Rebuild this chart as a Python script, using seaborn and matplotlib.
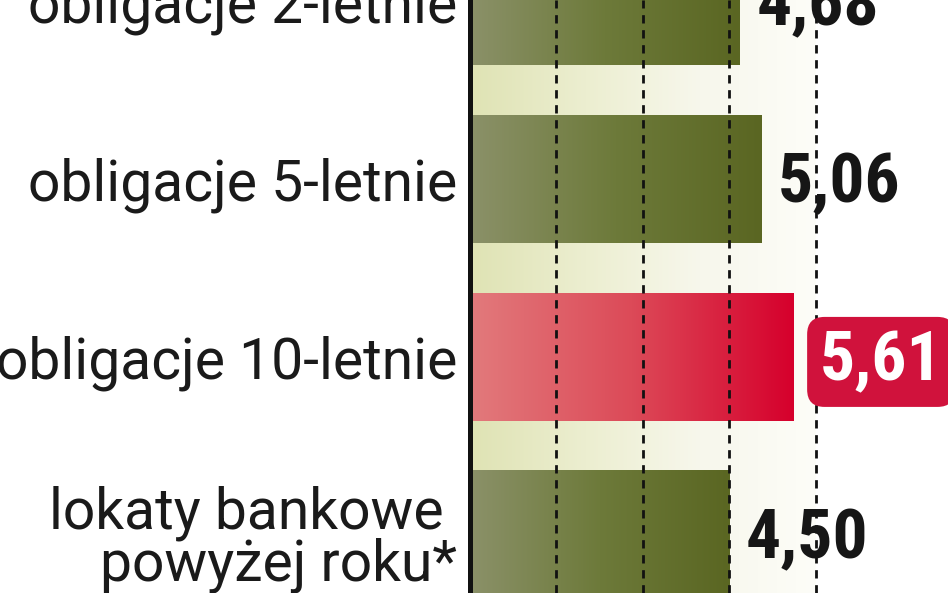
import matplotlib
matplotlib.use("Agg")
import matplotlib.pyplot as plt
from matplotlib.colors import LinearSegmentedColormap
import seaborn as sns
import numpy as np
import pandas as pd

categories = ["obligacje 2-letnie", "obligacje 5-letnie", "obligacje 10-letnie",
              "lokaty bankowe \npowyżej roku*"]
values = [4.68, 5.06, 5.61, 4.50]
value_labels = ["4,68", "5,06", "5,61", "4,50"]
highlight = [False, False, True, False]
grid_ticks = [1.5, 3.0, 4.5, 6.0]

sns.set_theme(style="white")
plt.rcParams['font.family'] = ['Roboto', 'DejaVu Sans']

df = pd.DataFrame({'kategoria': categories, 'wartosc': values})

fig = plt.figure(figsize=(9.48, 5.93), dpi=100)
ax = fig.add_axes([470 / 948, 0, 478 / 948, 1])

sns.barplot(data=df, x='wartosc', y='kategoria', orient='h', color='#6f7a40',
            width=0.72, ax=ax, zorder=2)

px_per_unit = 57.6
xmax = 478 / px_per_unit
ylims = (3.33, -0.006)

# cream background band fading to white
band = LinearSegmentedColormap.from_list('band', ['#dfe3b4', '#eceed0', '#f7f7ec', '#fdfdf8'])
ax.imshow(np.linspace(0, 1, 256).reshape(1, -1), cmap=band, aspect='auto',
          extent=(0, 6.0, ylims[0], ylims[1]), zorder=0)

green = LinearSegmentedColormap.from_list('green', ['#8b9169', '#6d7a3a', '#5a6622'])
red = LinearSegmentedColormap.from_list('red', ['#e27a7c', '#dc4a58', '#d6002c'])

for patch, hl in zip(ax.patches, highlight):
    x0, y0 = patch.get_x(), patch.get_y()
    w, h = patch.get_width(), patch.get_height()
    im = ax.imshow(np.linspace(0, 1, 256).reshape(1, -1), cmap=red if hl else green,
                   aspect='auto', extent=(x0, x0 + w, y0 + h, y0), zorder=2)
    im.set_clip_path(patch)
    patch.set_facecolor('none')
    patch.set_edgecolor('none')

ax.set_xlim(0, xmax)
ax.set_ylim(*ylims)

for g in grid_ticks:
    ax.axvline(g, color='#111111', linestyle=(0, (3.0, 2.4)), linewidth=2.0, zorder=3)

value_font = ['Roboto Condensed', 'Liberation Sans Narrow', 'Roboto']
for i, (v, lab, hl) in enumerate(zip(values, value_labels, highlight)):
    if hl:
        ax.text(v + 0.46, i + 0.03, lab, ha='left', va='center', color='white',
                fontsize=50, fontweight='bold', zorder=5, family=value_font,
                bbox=dict(boxstyle='round,pad=0.18,rounding_size=0.25',
                          fc='#d0123c', ec='none'))
    else:
        ax.text(v + 0.29, i + 0.03, lab, ha='left', va='center', color='#161616',
                fontsize=50, fontweight='bold', zorder=5, family=value_font)

ax.set_xlabel('')
ax.set_ylabel('')
ax.set_xticks([])
ax.tick_params(axis='y', length=0, pad=9, labelsize=41, labelcolor='#1a1a1a')
for t in ax.get_yticklabels():
    t.set_linespacing(0.92)
for s in ['top', 'right', 'bottom']:
    ax.spines[s].set_visible(False)
ax.spines['left'].set_color('#111111')
ax.spines['left'].set_linewidth(3.6)
ax.spines['left'].set_zorder(4)

fig.savefig('out.png', dpi=100)
